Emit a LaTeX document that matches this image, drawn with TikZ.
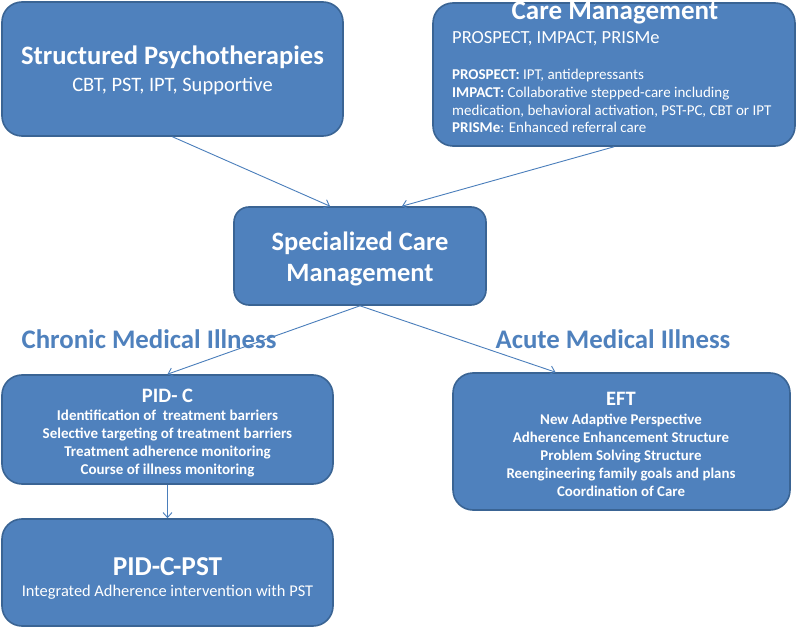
\documentclass[tikz,border=0pt]{standalone}
\usepackage{fontspec}
\setmainfont{Carlito}
\usetikzlibrary{arrows.meta,calc}
\definecolor{boxfill}{HTML}{4F81BD}
\definecolor{boxline}{HTML}{3A6494}
\definecolor{arrowc}{HTML}{4A7EBB}
\definecolor{labelc}{HTML}{4F81BD}
\tikzset{
  box/.style={draw=boxline, line width=1.6pt, fill=boxfill, rounded corners=20pt, inner sep=0pt},
  txt/.style={text=white, anchor=base, inner sep=0pt},
  conn/.style={draw=arrowc, line width=0.9pt, -{Straight Barb[length=5pt,width=9pt]}},
  side/.style={text=labelc, anchor=base, inner sep=0pt, font=\fontsize{26.8}{30}\selectfont\bfseries}
}
\begin{document}
\begin{tikzpicture}[x=1pt,y=-1pt]
\useasboundingbox (0,0) rectangle (800,628);
\fill[white] (0,0) rectangle (800,628);
% boxes
\node[box, minimum width=341pt, minimum height=134pt] (sp) at (172.5,69) {};
\node[box, minimum width=362pt, minimum height=143pt] (cm) at (614,74.5) {};
\node[box, rounded corners=15pt, minimum width=252pt, minimum height=98pt] (scm) at (360,256) {};
\node[box, minimum width=331pt, minimum height=109pt] (pidc) at (167.5,429.5) {};
\node[box, minimum width=337pt, minimum height=137pt] (eft) at (621.5,441.5) {};
\node[box, minimum width=331pt, minimum height=107pt] (pst) at (167.5,572.5) {};
% connectors
\draw[conn] (sp.south) -- ([xshift=-30pt]scm.north);
\draw[conn] (cm.south) -- ([xshift=42pt]scm.north);
\draw[conn] (scm.south) -- (pidc.north);
\draw[conn] (scm.south) -- ([xshift=-66pt]eft.north);
\draw[conn] (pidc.south) -- (pst.north);
% texts box 1
\node[txt, font=\fontsize{26.6}{30}\selectfont\bfseries] (t1) at (172.5,65) {Structured Psychotherapies};
\node[txt, font=\fontsize{20.5}{24}\selectfont] (t1b) at (172.5,92) {CBT, PST, IPT, Supportive};
% box 2
\node[txt, font=\fontsize{27}{30}\selectfont\bfseries] (t2) at (615,19.5) {Care Management};
\node[txt, font=\fontsize{18.5}{23}\selectfont, anchor=base west] (t2b) at (452,43.5) {PROSPECT, IMPACT, PRISMe};
\node[txt, font=\fontsize{15}{17}\selectfont, anchor=base west] (t2c) at (452,80) {\textbf{PROSPECT:} IPT, antidepressants};
\node[txt, font=\fontsize{15}{17}\selectfont, anchor=base west] (t2d) at (452,98) {\textbf{IMPACT:} Collaborative stepped-care including};
\node[txt, font=\fontsize{15}{17}\selectfont, anchor=base west] (t2e) at (452,116) {medication, behavioral activation, PST-PC, CBT or IPT};
\node[txt, font=\fontsize{15}{17}\selectfont, anchor=base west] (t2f) at (452,133) {\textbf{PRISMe}: Enhanced referral care};
% box 3
\node[txt, font=\fontsize{26.5}{30}\selectfont\bfseries] (t3a) at (360,251) {Specialized Care};
\node[txt, font=\fontsize{26.5}{30}\selectfont\bfseries] (t3b) at (360,282) {Management};
% side labels
\node[side] (chr) at (149,348) {Chronic Medical Illness};
\node[side] (acu) at (613,348) {Acute Medical Illness};
% PID-C
\node[txt, font=\fontsize{20.5}{23}\selectfont\bfseries] (t4) at (167.5,402) {PID- C};
\node[txt, font=\fontsize{15}{17}\selectfont\bfseries] (t4a) at (167.5,420) {Identification of\ \ treatment barriers};
\node[txt, font=\fontsize{15}{17}\selectfont\bfseries] (t4b) at (167.5,438) {Selective targeting of treatment barriers};
\node[txt, font=\fontsize{15}{17}\selectfont\bfseries] (t4c) at (167.5,456) {Treatment adherence monitoring};
\node[txt, font=\fontsize{15}{17}\selectfont\bfseries] (t4d) at (167.5,474) {Course of illness monitoring};
% EFT
\node[txt, font=\fontsize{20.5}{23}\selectfont\bfseries] (t5) at (621,405) {EFT};
\node[txt, font=\fontsize{14.9}{17}\selectfont\bfseries] (t5a) at (621,424) {New Adaptive Perspective};
\node[txt, font=\fontsize{14.9}{17}\selectfont\bfseries] (t5b) at (621,442) {Adherence Enhancement Structure};
\node[txt, font=\fontsize{14.9}{17}\selectfont\bfseries] (t5c) at (621,460) {Problem Solving Structure};
\node[txt, font=\fontsize{14.9}{17}\selectfont\bfseries] (t5d) at (621,478) {Reengineering family goals and plans};
\node[txt, font=\fontsize{14.9}{17}\selectfont\bfseries] (t5e) at (621,496) {Coordination of Care};
% PST
\node[txt, font=\fontsize{27.3}{30}\selectfont\bfseries] (t6) at (167.5,575) {PID-C-PST};
\node[txt, font=\fontsize{16.4}{19}\selectfont] (t6a) at (167.5,596) {Integrated Adherence intervention with PST};
\end{tikzpicture}
\end{document}
